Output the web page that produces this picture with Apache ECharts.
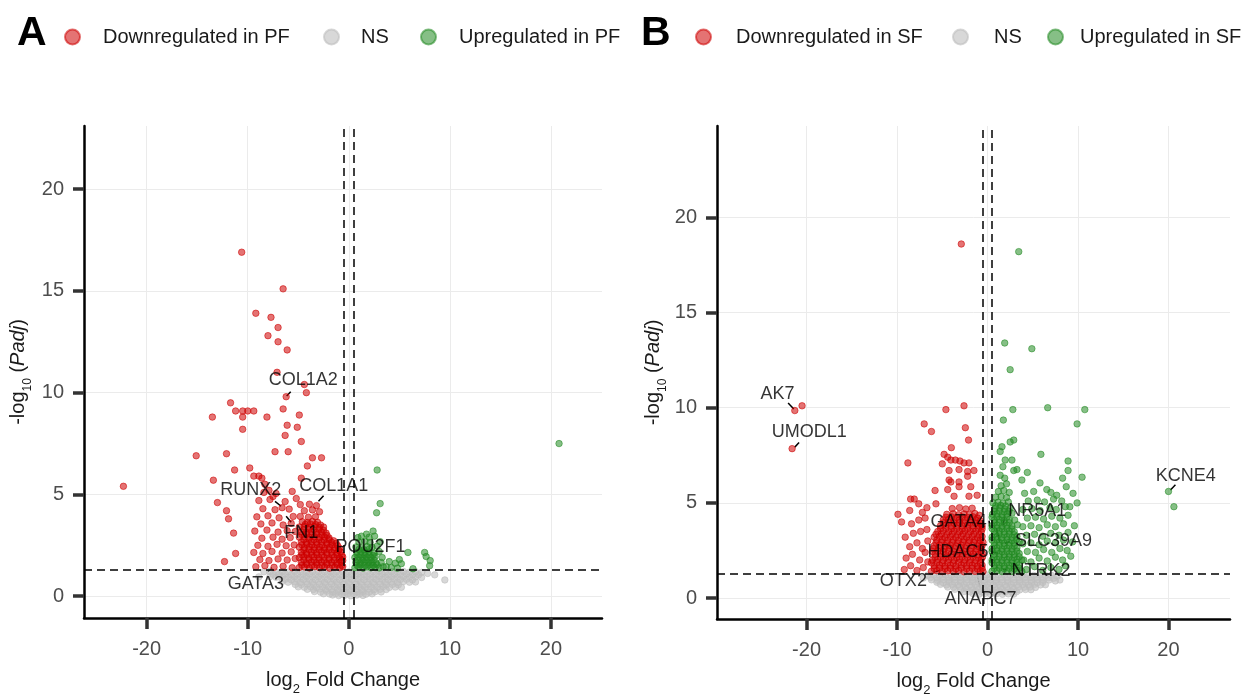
<!DOCTYPE html>
<html>
<head>
<meta charset="utf-8">
<script src="https://cdn.jsdelivr.net/npm/echarts@6/dist/echarts.min.js"></script>
<style>
  html, body { margin: 0; padding: 0; background: #fff; }
  #chart { width: 1255px; height: 695px; }
</style>
</head>
<body>
<div id="chart"></div>
<script>
// ---- data: [log2FC, -log10(padj)] ----
const xTicks = [-20, -10, 0, 10, 20]
const yTicks = [0, 5, 10, 15, 20]

// panel A (PF)
const pfDown = [
  [-10.6,16.9],[-6.5,15.1],[-9.2,13.9],[-7.7,13.7],[-7.0,13.2],[-8.0,12.8],[-7.0,12.5],[-6.1,12.1],
  [-7.1,11.0],[-4.4,10.4],[-4.2,10.0],[-6.2,9.8],[-11.7,9.5],[-11.2,9.1],[-10.5,9.1],[-10.0,9.1],[-9.4,9.1],
  [-6.5,9.2],[-4.9,8.9],[-13.5,8.8],[-10.5,8.8],[-8.1,8.8],[-10.5,8.2],[-6.1,8.4],[-5.1,8.3],[-6.3,7.9],
  [-4.7,7.6],[-7.3,7.1],[-6.0,7.1],[-15.1,6.9],[-12.1,7.0],[-3.6,6.8],[-2.7,6.8],[-4.1,6.4],[-9.8,6.3],
  [-11.3,6.2],[-9.4,5.9],[-8.9,5.9],[-8.6,5.8],[-13.4,5.7],[-22.3,5.4],[-4.7,5.8],[-13.0,4.6],[-12.1,4.2],
  [-11.9,3.8],[-11.4,3.1],[-12.3,1.7],[-11.2,2.1],[-8.3,5.5],[-7.9,5.2],[-7.5,4.9],
  [-9.2,1.45],[-8.3,1.5],[-7.4,1.42],[-6.5,1.47],[-5.6,1.4],
  [-8.8,1.8],[-7.9,1.75],[-7.0,1.83],[-6.1,1.78],[-5.3,1.85],
  [-9.4,2.15],[-8.5,2.1],[-7.6,2.2],[-6.6,2.12],[-5.7,2.18],
  [-9.0,2.5],[-8.0,2.45],[-7.1,2.55],[-6.2,2.48],[-5.4,2.52],
  [-8.6,2.85],[-7.5,2.9],[-6.6,2.8],[-5.8,2.88],
  [-9.3,3.2],[-8.1,3.25],[-7.0,3.15],[-6.1,3.22],[-5.3,3.18],
  [-8.7,3.55],[-7.6,3.6],[-6.5,3.5],[-5.7,3.58],
  [-9.1,3.9],[-8.0,3.95],[-6.9,3.85],[-5.5,3.92],
  [-8.5,4.3],[-7.3,4.25],[-6.6,4.35],[-5.9,4.28],
  [-8.9,4.7],[-7.8,4.75],[-6.3,4.65],[-5.2,4.8],
  [-8.4,5.1],[-7.2,5.05],[-5.6,5.15],
  [-4.9,1.41],[-4.4,1.44],[-3.9,1.39],[-3.4,1.45],[-2.9,1.4],[-2.4,1.43],[-1.9,1.38],[-1.4,1.44],[-0.9,1.4],[-0.6,1.46],
  [-4.7,1.66],[-4.2,1.62],[-3.7,1.68],[-3.2,1.64],[-2.7,1.67],[-2.2,1.63],[-1.7,1.66],[-1.2,1.62],[-0.75,1.68],
  [-4.9,1.9],[-4.45,1.94],[-3.95,1.88],[-3.45,1.93],[-2.95,1.89],[-2.45,1.92],[-1.95,1.87],[-1.45,1.92],[-0.95,1.88],[-0.6,1.93],
  [-4.7,2.16],[-4.2,2.12],[-3.7,2.17],[-3.2,2.13],[-2.7,2.18],[-2.2,2.14],[-1.7,2.16],[-1.2,2.12],[-0.8,2.17],
  [-4.9,2.41],[-4.4,2.38],[-3.9,2.43],[-3.4,2.39],[-2.9,2.42],[-2.4,2.37],[-1.9,2.41],[-1.4,2.38],[-0.9,2.35],
  [-4.7,2.66],[-4.2,2.63],[-3.7,2.68],[-3.2,2.64],[-2.7,2.67],[-2.2,2.62],[-1.7,2.65],[-1.25,2.6],
  [-4.9,2.9],[-4.4,2.93],[-3.9,2.88],[-3.4,2.92],[-2.9,2.89],[-2.4,2.91],[-1.95,2.86],
  [-4.7,3.16],[-4.2,3.13],[-3.7,3.17],[-3.2,3.12],[-2.7,3.15],[-2.25,3.1],
  [-4.9,3.4],[-4.4,3.43],[-3.9,3.38],[-3.4,3.42],[-2.9,3.37],[-2.5,3.4],
  [-4.6,3.66],[-4.1,3.62],[-3.6,3.67],[-3.1,3.63],
  [-4.8,3.92],[-4.0,3.88],[-3.3,3.9],
  [-4.4,4.2],[-3.6,4.24],[-2.9,4.15],
  [-4.8,4.5],[-3.9,4.52],[-3.2,4.45]
]
// the packed core of the down-regulated cloud in A
const pfDownCore = [
  [-4.65,1.53],[-4.15,1.55],[-3.65,1.52],[-3.15,1.54],[-2.65,1.51],[-2.15,1.55],[-1.65,1.52],[-1.15,1.54],[-0.7,1.52],
  [-4.45,1.78],[-3.95,1.8],[-3.45,1.77],[-2.95,1.79],[-2.45,1.76],[-1.95,1.8],[-1.45,1.77],[-0.95,1.79],[-0.6,1.76],
  [-4.65,2.03],[-4.15,2.05],[-3.65,2.02],[-3.15,2.04],[-2.65,2.01],[-2.15,2.05],[-1.65,2.02],[-1.15,2.04],[-0.7,2.02],
  [-4.45,2.28],[-3.95,2.3],[-3.45,2.27],[-2.95,2.29],[-2.45,2.26],[-1.95,2.3],[-1.45,2.27],[-1.0,2.26],
  [-4.65,2.53],[-4.15,2.55],[-3.65,2.52],[-3.15,2.54],[-2.65,2.51],[-2.15,2.55],[-1.65,2.52],[-1.1,2.48],
  [-4.45,2.78],[-3.95,2.8],[-3.45,2.77],[-2.95,2.79],[-2.45,2.76],[-1.95,2.78],[-1.5,2.72],
  [-4.65,3.03],[-4.15,3.05],[-3.65,3.02],[-3.15,3.04],[-2.65,3.01],[-2.15,2.98],
  [-4.45,3.28],[-3.95,3.3],[-3.45,3.27],[-2.95,3.29],[-2.5,3.24],
  [-4.3,3.53],[-3.8,3.55],[-3.3,3.52],[-2.8,3.5]
]
const pfNS = [
  [-8.4,1.2],[-7.8,1.22],[-7.2,1.18],[-6.6,1.21],[-6.0,1.19],[-5.4,1.23],[-4.8,1.2],[-4.2,1.17],[-3.6,1.22],[-3.0,1.19],
  [-2.4,1.21],[-1.8,1.18],[-1.2,1.22],[-0.6,1.2],[0,1.19],[0.6,1.22],[1.2,1.18],[1.8,1.21],[2.4,1.2],[3.0,1.23],
  [3.6,1.18],[4.2,1.21],[4.8,1.19],[5.4,1.22],[6.0,1.18],[6.6,1.2],[7.2,1.17],[7.8,1.12],
  [-7.8,0.96],[-7.2,0.93],[-6.6,0.97],[-6.0,0.94],[-5.4,0.96],[-4.8,0.93],[-4.2,0.97],[-3.6,0.94],[-3.0,0.96],
  [-2.4,0.93],[-1.8,0.97],[-1.2,0.94],[-0.6,0.96],[0,0.93],[0.6,0.97],[1.2,0.94],[1.8,0.96],[2.4,0.93],[3.0,0.97],
  [3.6,0.94],[4.2,0.96],[4.8,0.93],[5.4,0.97],[6.0,0.94],[6.6,0.95],[7.2,0.92],
  [-6.6,0.72],[-6.0,0.69],[-5.4,0.71],[-4.8,0.68],[-4.2,0.72],[-3.6,0.69],[-3.0,0.71],[-2.4,0.68],[-1.8,0.72],
  [-1.2,0.69],[-0.6,0.71],[0,0.68],[0.6,0.72],[1.2,0.69],[1.8,0.71],[2.4,0.68],[3.0,0.72],[3.6,0.69],[4.2,0.71],
  [4.8,0.68],[5.4,0.72],[6.0,0.69],[6.6,0.7],
  [-5.0,0.46],[-4.4,0.44],[-3.8,0.47],[-3.2,0.43],[-2.6,0.46],[-2.0,0.44],[-1.4,0.47],[-0.8,0.43],[-0.2,0.46],
  [0.4,0.44],[1.0,0.47],[1.6,0.43],[2.2,0.46],[2.8,0.44],[3.4,0.47],[4.0,0.43],[4.6,0.45],[5.2,0.44],
  [-3.4,0.23],[-2.8,0.2],[-2.2,0.24],[-1.6,0.21],[-1.0,0.23],[-0.4,0.2],[0.2,0.24],[0.8,0.21],[1.4,0.23],
  [2.0,0.2],[2.6,0.22],[3.2,0.21],
  [-1.6,0.06],[-1.0,0.03],[-0.4,0.05],[0.2,0.02],[0.8,0.06],[1.4,0.04],
  [9.5,0.8],[8.5,1.05],[-8.9,0.95],
  [-7.5,1.08],[-6.9,1.07],[-6.3,1.09],[-5.7,1.06],[-5.1,1.08],[-4.5,1.07],[-3.9,1.09],[-3.3,1.06],[-2.7,1.08],
  [-2.1,1.07],[-1.5,1.09],[-0.9,1.06],[-0.3,1.08],[0.3,1.07],[0.9,1.09],[1.5,1.06],[2.1,1.08],[2.7,1.07],
  [3.3,1.09],[3.9,1.06],[4.5,1.08],[5.1,1.07],[5.7,1.09],[6.3,1.06],[6.9,1.05],
  [-6.3,0.83],[-5.7,0.81],[-5.1,0.84],[-4.5,0.82],[-3.9,0.83],[-3.3,0.81],[-2.7,0.84],[-2.1,0.82],[-1.5,0.83],
  [-0.9,0.81],[-0.3,0.84],[0.3,0.82],[0.9,0.83],[1.5,0.81],[2.1,0.84],[2.7,0.82],[3.3,0.83],[3.9,0.81],
  [4.5,0.84],[5.1,0.82],[5.7,0.83],[6.3,0.8],
  [-5.3,0.58],[-4.7,0.57],[-4.1,0.59],[-3.5,0.56],[-2.9,0.58],[-2.3,0.57],[-1.7,0.59],[-1.1,0.56],[-0.5,0.58],
  [0.1,0.57],[0.7,0.59],[1.3,0.56],[1.9,0.58],[2.5,0.57],[3.1,0.59],[3.7,0.56],[4.3,0.58],[4.9,0.56],
  [-4.1,0.34],[-3.5,0.33],[-2.9,0.35],[-2.3,0.32],[-1.7,0.34],[-1.1,0.33],[-0.5,0.35],[0.1,0.32],[0.7,0.34],
  [1.3,0.33],[1.9,0.35],[2.5,0.32],[3.1,0.34],[3.7,0.33],
  [-2.5,0.12],[-1.9,0.11],[-1.3,0.13],[-0.7,0.1],[-0.1,0.12],[0.5,0.11],[1.1,0.13],[1.7,0.1],[2.3,0.12]
]
const pfUp = [
  [20.8,7.5],[2.8,6.2],[3.1,4.55],[2.75,4.1],[1.25,2.95],[1.75,3.05],[2.4,3.2],[2.55,2.95],[5.85,2.15],
  [7.5,2.15],[7.65,1.95],[8.05,1.75],[5.0,1.8],[5.2,1.6],[6.35,1.35],[3.7,1.45],[8.0,1.5],
  [0.6,1.4],[1.0,1.43],[1.4,1.38],[1.8,1.44],[2.2,1.4],[2.6,1.42],[3.0,1.39],[3.4,1.45],[4.2,1.41],[4.8,1.38],
  [0.7,1.66],[1.1,1.63],[1.5,1.68],[1.9,1.64],[2.3,1.67],[2.7,1.62],[3.2,1.66],[4.0,1.7],[4.6,1.62],
  [0.6,1.9],[1.0,1.93],[1.4,1.88],[1.8,1.92],[2.2,1.89],[2.6,1.94],[3.3,1.9],
  [0.8,2.15],[1.2,2.18],[1.6,2.13],[2.0,2.17],[2.5,2.12],[3.0,2.2],
  [0.7,2.42],[1.3,2.38],[1.8,2.44],[2.3,2.4],[2.8,2.46],
  [1.0,2.66],[1.6,2.7],[2.1,2.64],[3.1,2.68],
  [0.9,2.88],[2.0,2.9],
  [0.8,1.52],[1.2,1.54],[1.6,1.51],[2.0,1.53],[2.4,1.52],[2.8,1.55],
  [0.9,1.78],[1.3,1.77],[1.7,1.79],[2.1,1.76],[2.5,1.78],
  [0.8,2.03],[1.2,2.04],[1.6,2.02],[2.0,2.05],[2.4,2.01],
  [1.0,2.3],[1.5,2.28],[2.0,2.31]
]
const pfGenes = [
  ['COL1A2', -4.5, 10.6], ['RUNX2', -9.7, 5.2], ['COL1A1', -1.5, 5.4],
  ['FN1', -4.7, 3.1], ['POU2F1', 2.15, 2.4], ['GATA3', -9.2, 0.58]
]
const pfLinks = [
  [-6.15,9.83,-5.75,10.05], [-7.3,4.66,-6.7,4.42], [-2.5,4.94,-3.0,4.66],
  [-6.2,3.93,-5.7,3.63], [-0.62,1.97,-1.15,1.73], [-7.6,1.4,-8.0,1.2]
]

// panel B (SF)
const sfDown = [
  [-2.9,18.6],[-2.6,10.1],[-4.6,9.9],[-7.0,9.15],[-6.2,8.75],[-2.45,8.95],[-2.1,8.3],[-8.8,7.1],[-4.0,7.9],
  [-4.8,7.55],[-4.4,7.4],[-4.05,7.25],[-3.55,7.25],[-3.05,7.2],[-2.6,7.1],[-2.05,7.1],[-5.0,7.05],[-4.25,6.7],
  [-3.15,6.75],[-2.2,6.65],[-1.5,6.7],[-5.8,5.65],[-8.5,5.2],[-8.1,5.2],[-7.6,4.95],[-8.6,4.6],[-9.9,4.4],
  [-6.7,4.75],[-5.7,4.95],[-21.3,9.85],[-20.5,10.1],[-21.6,7.85],
  [-2.2,6.4],[-3.15,6.1],[-4.05,6.1],[-1.85,5.85],[-3.15,5.85],[-4.4,5.7],[-2.05,5.35],[-1.15,5.4],[-3.7,5.35],[-4.25,6.2],
  [-9.2,1.5],[-8.5,1.7],[-7.8,1.45],[-7.1,1.6],[-6.6,1.9],
  [-9.0,2.1],[-8.3,2.3],[-7.5,2.0],[-6.9,2.4],
  [-8.6,2.7],[-7.8,2.9],[-7.2,2.6],[-6.6,3.0],
  [-9.1,3.2],[-8.2,3.4],[-7.4,3.5],[-6.7,3.6],
  [-8.4,3.9],[-7.6,4.1],[-6.9,4.2],[-9.5,4.0],[-7.2,4.5],
  [-6.2,1.41],[-5.6,1.44],[-5.0,1.39],[-4.4,1.43],[-3.8,1.4],[-3.2,1.45],[-2.6,1.38],[-2.0,1.42],[-1.4,1.4],[-0.8,1.44],[-0.5,1.39],
  [-5.9,1.7],[-5.3,1.73],[-4.7,1.68],[-4.1,1.72],[-3.5,1.69],[-2.9,1.74],[-2.3,1.7],[-1.7,1.72],[-1.1,1.68],[-0.6,1.73],
  [-6.1,2.0],[-5.5,2.03],[-4.9,1.98],[-4.3,2.02],[-3.7,1.99],[-3.1,2.04],[-2.5,2.0],[-1.9,2.02],[-1.3,1.98],[-0.7,2.03],
  [-5.8,2.3],[-5.2,2.33],[-4.6,2.28],[-4.0,2.32],[-3.4,2.29],[-2.8,2.34],[-2.2,2.3],[-1.6,2.32],[-1.0,2.28],[-0.55,2.33],
  [-6.0,2.6],[-5.4,2.63],[-4.8,2.58],[-4.2,2.62],[-3.6,2.59],[-3.0,2.64],[-2.4,2.6],[-1.8,2.62],[-1.2,2.58],[-0.7,2.63],
  [-5.7,2.9],[-5.1,2.93],[-4.5,2.88],[-3.9,2.92],[-3.3,2.89],[-2.7,2.94],[-2.1,2.9],[-1.5,2.92],[-0.9,2.88],[-0.5,2.93],
  [-5.9,3.2],[-5.3,3.23],[-4.7,3.18],[-4.1,3.22],[-3.5,3.19],[-2.9,3.24],[-2.3,3.2],[-1.7,3.22],[-1.1,3.18],[-0.6,3.23],
  [-5.5,3.5],[-4.9,3.53],[-4.3,3.48],[-3.7,3.52],[-3.1,3.49],[-2.5,3.54],[-1.9,3.5],[-1.3,3.52],[-0.7,3.48],
  [-5.2,3.8],[-4.6,3.83],[-4.0,3.78],[-3.4,3.82],[-2.8,3.79],[-2.2,3.84],[-1.6,3.8],[-1.0,3.82],[-0.6,3.78],
  [-4.9,4.1],[-4.3,4.13],[-3.7,4.08],[-3.1,4.12],[-2.5,4.09],[-1.9,4.14],[-1.3,4.1],[-0.8,4.05],
  [-4.5,4.4],[-3.8,4.43],[-3.2,4.38],[-2.6,4.42],[-2.0,4.39],[-1.4,4.44],[-0.9,4.35],
  [-3.9,4.7],[-3.1,4.75],[-2.4,4.68],[-1.7,4.72]
]
// the packed core of the down-regulated cloud in B
const sfDownCore = [
  [-5.9,1.55],[-5.3,1.57],[-4.7,1.54],[-4.1,1.56],[-3.5,1.53],[-2.9,1.57],[-2.3,1.54],[-1.7,1.56],[-1.1,1.53],[-0.6,1.56],
  [-6.2,1.85],[-5.6,1.87],[-5.0,1.84],[-4.4,1.86],[-3.8,1.83],[-3.2,1.87],[-2.6,1.84],[-2.0,1.86],[-1.4,1.83],[-0.8,1.86],
  [-5.8,2.15],[-5.2,2.17],[-4.6,2.14],[-4.0,2.16],[-3.4,2.13],[-2.8,2.17],[-2.2,2.14],[-1.6,2.16],[-1.0,2.13],[-0.55,2.16],
  [-6.1,2.45],[-5.5,2.47],[-4.9,2.44],[-4.3,2.46],[-3.7,2.43],[-3.1,2.47],[-2.5,2.44],[-1.9,2.46],[-1.3,2.43],[-0.7,2.46],
  [-5.9,2.75],[-5.3,2.77],[-4.7,2.74],[-4.1,2.76],[-3.5,2.73],[-2.9,2.77],[-2.3,2.74],[-1.7,2.76],[-1.1,2.73],[-0.6,2.76],
  [-5.6,3.05],[-5.0,3.07],[-4.4,3.04],[-3.8,3.06],[-3.2,3.03],[-2.6,3.07],[-2.0,3.04],[-1.4,3.06],[-0.8,3.03],
  [-5.7,3.35],[-5.1,3.37],[-4.5,3.34],[-3.9,3.36],[-3.3,3.33],[-2.7,3.37],[-2.1,3.34],[-1.5,3.36],[-0.9,3.33],
  [-5.2,3.65],[-4.6,3.67],[-4.0,3.64],[-3.4,3.66],[-2.8,3.63],[-2.2,3.67],[-1.6,3.64],[-1.0,3.66],[-0.6,3.63],
  [-4.9,3.95],[-4.3,3.97],[-3.7,3.94],[-3.1,3.96],[-2.5,3.93],[-1.9,3.97],[-1.3,3.94],[-0.8,3.92],
  [-4.6,4.25],[-4.0,4.27],[-3.4,4.24],[-2.8,4.26],[-2.2,4.23],[-1.6,4.27],[-1.1,4.2]
]
const sfNS = [
  [-6.6,1.2],[-5.95,1.22],[-5.3,1.18],[-4.65,1.21],[-4.0,1.19],[-3.35,1.23],[-2.7,1.2],[-2.05,1.17],[-1.4,1.22],
  [-0.75,1.19],[-0.1,1.21],[0.55,1.18],[1.2,1.22],[1.85,1.2],[2.5,1.19],[3.15,1.23],[3.8,1.18],[4.45,1.21],
  [5.1,1.19],[5.75,1.22],[6.4,1.18],[7.05,1.2],[7.7,1.15],
  [-6.2,0.96],[-5.55,0.93],[-4.9,0.97],[-4.25,0.94],[-3.6,0.96],[-2.95,0.93],[-2.3,0.97],[-1.65,0.94],[-1.0,0.96],
  [-0.35,0.93],[0.3,0.97],[0.95,0.94],[1.6,0.96],[2.25,0.93],[2.9,0.97],[3.55,0.94],[4.2,0.96],[4.85,0.93],
  [5.5,0.97],[6.15,0.94],[6.8,0.95],[7.5,0.9],
  [-5.2,0.72],[-4.55,0.69],[-3.9,0.71],[-3.25,0.68],[-2.6,0.72],[-1.95,0.69],[-1.3,0.71],[-0.65,0.68],[0,0.72],
  [0.65,0.69],[1.3,0.71],[1.95,0.68],[2.6,0.72],[3.25,0.69],[3.9,0.71],[4.55,0.68],[5.2,0.72],[5.85,0.69],[6.4,0.7],
  [-3.6,0.46],[-2.95,0.44],[-2.3,0.47],[-1.65,0.43],[-1.0,0.46],[-0.35,0.44],[0.3,0.47],[0.95,0.43],[1.6,0.46],
  [2.25,0.44],[2.9,0.47],[3.55,0.43],[4.2,0.45],[4.8,0.44],
  [-1.6,0.23],[-0.95,0.2],[-0.3,0.24],[0.35,0.21],[1.0,0.23],[1.65,0.2],[2.3,0.22],[2.9,0.21],
  [8.0,0.95],[-7.1,1.05],
  [-6.3,1.08],[-5.6,1.07],[-4.95,1.09],[-4.3,1.06],[-3.65,1.08],[-3.0,1.07],[-2.35,1.09],[-1.7,1.06],[-1.05,1.08],
  [-0.4,1.07],[0.25,1.09],[0.9,1.06],[1.55,1.08],[2.2,1.07],[2.85,1.09],[3.5,1.06],[4.15,1.08],[4.8,1.07],
  [5.45,1.09],[6.1,1.06],[6.75,1.07],[7.3,1.04],
  [-5.6,0.83],[-4.9,0.81],[-4.25,0.84],[-3.6,0.82],[-2.95,0.83],[-2.3,0.81],[-1.65,0.84],[-1.0,0.82],[-0.35,0.83],
  [0.3,0.81],[0.95,0.84],[1.6,0.82],[2.25,0.83],[2.9,0.81],[3.55,0.84],[4.2,0.82],[4.85,0.83],[5.5,0.81],[6.1,0.82],
  [-4.4,0.58],[-3.75,0.57],[-3.1,0.59],[-2.45,0.56],[-1.8,0.58],[-1.15,0.57],[-0.5,0.59],[0.15,0.56],[0.8,0.58],
  [1.45,0.57],[2.1,0.59],[2.75,0.56],[3.4,0.58],[4.05,0.57],[4.7,0.58],[5.3,0.56],
  [-2.6,0.34],[-1.95,0.33],[-1.3,0.35],[-0.65,0.32],[0,0.34],[0.65,0.33],[1.3,0.35],[1.95,0.32],[2.6,0.34],[3.2,0.33]
]
const sfUp = [
  [3.45,18.2],[1.9,13.4],[4.9,13.1],[2.5,12.0],[6.65,10.0],[2.8,9.9],[10.75,9.9],[1.75,9.35],[9.9,9.15],
  [5.9,7.55],[8.9,7.2],[8.9,6.7],[10.45,6.35],[2.9,8.3],[2.5,8.2],[20.0,5.6],[20.6,4.8],
  [1.6,7.95],[1.4,7.7],[1.95,7.25],[2.7,7.25],[3.25,6.75],[2.9,6.7],[1.7,6.9],[3.8,6.2],[5.8,6.05],
  [6.55,5.7],[7.65,5.4],[8.7,5.85],[9.45,5.5],[9.9,5.0],[9.1,4.8],[8.3,6.3],[4.4,6.6],
  [0.5,1.41],[1.05,1.44],[1.6,1.39],[2.15,1.43],[2.7,1.4],[3.25,1.45],[3.8,1.4],
  [0.75,1.7],[1.3,1.73],[1.85,1.68],[2.4,1.72],[2.95,1.69],[3.5,1.74],
  [0.5,2.0],[1.05,2.03],[1.6,1.98],[2.15,2.02],[2.7,1.99],[3.25,2.04],[3.8,2.0],
  [0.75,2.3],[1.3,2.33],[1.85,2.28],[2.4,2.32],[2.95,2.29],[3.5,2.34],
  [0.5,2.6],[1.05,2.63],[1.6,2.58],[2.15,2.62],[2.7,2.59],[3.25,2.64],
  [0.75,2.9],[1.3,2.93],[1.85,2.88],[2.4,2.92],[2.95,2.89],[3.5,2.94],
  [0.5,3.2],[1.05,3.23],[1.6,3.18],[2.15,3.22],[2.7,3.19],[3.25,3.24],
  [0.75,3.5],[1.3,3.53],[1.85,3.48],[2.4,3.52],[2.95,3.49],
  [0.5,3.8],[1.05,3.83],[1.6,3.78],[2.15,3.82],[2.7,3.79],[3.3,3.85],
  [0.75,4.1],[1.3,4.13],[1.85,4.08],[2.4,4.12],[3.0,4.1],
  [0.55,4.4],[1.05,4.43],[1.6,4.38],[2.15,4.42],[2.7,4.45],
  [0.8,4.7],[1.35,4.73],[1.9,4.68],[2.5,4.72],
  [0.6,5.0],[1.15,5.03],[1.7,4.98],[2.3,5.05],
  [0.9,5.3],[1.5,5.33],[2.1,5.28],
  [1.2,5.6],[1.8,5.65],[2.4,5.55],
  [1.5,5.9],[2.1,6.0],[1.9,6.3],[1.4,6.45],
  [4.3,1.5],[5.2,1.65],[6.1,1.45],[7.0,1.6],[7.9,1.5],[8.6,1.7],
  [4.0,2.0],[4.8,1.9],[5.7,2.1],[6.6,1.95],[7.5,2.15],[8.3,2.0],[9.2,2.2],
  [4.4,2.45],[5.3,2.4],[6.2,2.55],[7.1,2.4],[8.0,2.6],[8.8,2.5],
  [3.9,2.85],[4.8,2.9],[5.7,2.8],[6.6,3.0],[7.5,2.9],[8.4,3.05],[9.4,2.95],
  [4.3,3.3],[5.2,3.35],[6.1,3.25],[7.0,3.4],[7.9,3.3],[8.9,3.45],
  [3.9,3.75],[4.8,3.8],[5.7,3.7],[6.6,3.85],[7.5,3.75],[8.4,3.9],[9.6,3.8],
  [4.4,4.2],[5.3,4.25],[6.2,4.15],[7.1,4.3],[8.0,4.2],[8.9,4.35],
  [3.9,4.65],[4.9,4.7],[5.8,4.6],[6.9,4.75],[7.6,4.65],[8.6,4.8],
  [4.5,5.1],[5.5,5.15],[6.3,5.05],[7.3,5.2],[8.2,5.1],
  [4.1,5.5],[5.1,5.6],[7.0,5.55]
]
// the packed core of the up-regulated cloud in B
const sfUpCore = [
  [0.75,1.55],[1.3,1.57],[1.85,1.54],[2.4,1.56],[2.95,1.53],[3.5,1.57],
  [0.5,1.85],[1.05,1.87],[1.6,1.84],[2.15,1.86],[2.7,1.83],[3.25,1.87],
  [0.75,2.15],[1.3,2.17],[1.85,2.14],[2.4,2.16],[2.95,2.13],[3.5,2.17],
  [0.5,2.45],[1.05,2.47],[1.6,2.44],[2.15,2.46],[2.7,2.43],[3.25,2.47],
  [0.75,2.75],[1.3,2.77],[1.85,2.74],[2.4,2.76],[2.95,2.73],
  [0.5,3.05],[1.05,3.07],[1.6,3.04],[2.15,3.06],[2.7,3.03],[3.2,3.07],
  [0.75,3.35],[1.3,3.37],[1.85,3.34],[2.4,3.36],[2.95,3.33],
  [0.5,3.65],[1.05,3.67],[1.6,3.64],[2.15,3.66],[2.7,3.63],
  [0.75,3.95],[1.3,3.97],[1.85,3.94],[2.4,3.96],
  [0.5,4.25],[1.05,4.27],[1.6,4.24],[2.15,4.26],
  [0.75,4.55],[1.3,4.57],[1.85,4.54],[2.35,4.56],
  [0.9,4.85],[1.45,4.87],[2.0,4.84]
]
const sfGenes = [
  ['AK7', -23.2, 10.7], ['UMODL1', -19.7, 8.7], ['KCNE4', 21.9, 6.43],
  ['NR5A1', 5.5, 4.57], ['GATA4', -3.2, 3.97], ['SLC39A9', 7.3, 2.99],
  ['HDAC5', -3.25, 2.4], ['NTRK2', 5.9, 1.43], ['OTX2', -9.3, 0.9], ['ANAPC7', -0.77, -0.06]
]
const sfLinks = [
  [-22.04,10.25,-21.41,9.93], [-20.83,8.17,-21.3,7.93], [20.77,5.95,20.22,5.68],
  [1.9,4.25,1.71,3.84], [0.98,3.67,1.35,2.96], [0.17,4.07,0.24,3.72],
  [2.45,2.96,1.9,2.88], [0.43,2.44,1.16,2.35], [0.32,2.35,0.43,1.91],
  [1.71,1.51,2.09,1.47], [-6.09,1.3,-5.28,1.47], [-1.16,1.3,-0.86,0.59]
]

const fcCut = 0.5
const padjCut = 1.3

// ---- styling ----
const FONT = "'Liberation Sans', Arial, Helvetica, sans-serif"
const RED = 'rgba(205,0,0,0.55)'
const GREEN = 'rgba(34,139,34,0.55)'
const GREY = 'rgba(190,190,190,0.6)'

function xAxisFor(gi, min, max) {
  return {
    type: 'value', gridIndex: gi, min: min, max: max,
    name: '{a|log}{s|2}{a| Fold Change}', nameLocation: 'middle', nameGap: 52,
    nameTextStyle: {
      rich: {
        a: { fontSize: 20, color: '#1a1a1a', fontFamily: FONT, lineHeight: 26, verticalAlign: 'top' },
        s: { fontSize: 13, color: '#1a1a1a', fontFamily: FONT, lineHeight: 13, verticalAlign: 'bottom' }
      }
    },
    axisLine: { show: true, onZero: false, lineStyle: { color: '#000', width: 2.5 } },
    axisTick: { show: true, length: 11, customValues: xTicks, lineStyle: { color: '#333', width: 3.5 } },
    axisLabel: { customValues: xTicks, color: '#4d4d4d', fontSize: 20, fontFamily: FONT, margin: 21 },
    splitLine: { show: true, lineStyle: { color: '#ebebeb', width: 1 } }
  }
}

function yAxisFor(gi, min, max, gap) {
  return {
    type: 'value', gridIndex: gi, min: min, max: max,
    name: '{a|-log}{s|10}{a| (}{i|Padj}{a|)}', nameLocation: 'middle', nameGap: gap,
    nameTextStyle: {
      rich: {
        a: { fontSize: 20, color: '#1a1a1a', fontFamily: FONT, lineHeight: 26, verticalAlign: 'top' },
        i: { fontSize: 20, color: '#1a1a1a', fontFamily: FONT, fontStyle: 'italic', lineHeight: 26, verticalAlign: 'top' },
        s: { fontSize: 12, color: '#1a1a1a', fontFamily: FONT, lineHeight: 12, verticalAlign: 'bottom' }
      }
    },
    axisLine: { show: true, onZero: false, lineStyle: { color: '#000', width: 2.5 } },
    axisTick: { show: true, length: 11, customValues: yTicks, lineStyle: { color: '#333', width: 3.5 } },
    axisLabel: { customValues: yTicks, color: '#4d4d4d', fontSize: 20, fontFamily: FONT, margin: 20 },
    splitLine: { show: true, lineStyle: { color: '#ebebeb', width: 1 } }
  }
}

function dots(name, data, color, gi) {
  return {
    name: name, type: 'scatter', xAxisIndex: gi, yAxisIndex: gi, data: data,
    symbolSize: 6.5, itemStyle: { color: color, borderColor: color, borderWidth: 1, opacity: 1 },
    emphasis: { disabled: true }
  }
}

function panelSeries(gi, tag, ns, down, up, genes, links) {
  let nsSeries = dots('NS', ns, GREY, gi)
  nsSeries.markLine = {
    silent: true, symbol: 'none', label: { show: false }, animation: false,
    lineStyle: { color: '#000', width: 1.5, type: [8, 5] },
    data: [{ xAxis: -fcCut }, { xAxis: fcCut }, { yAxis: padjCut }]
  }
  return [
    nsSeries,
    dots('Downregulated in ' + tag, down, RED, gi),
    dots('Upregulated in ' + tag, up, GREEN, gi),
    {
      type: 'lines', coordinateSystem: 'cartesian2d', xAxisIndex: gi, yAxisIndex: gi, silent: true,
      lineStyle: { color: '#000', width: 1.5, opacity: 1, curveness: 0 },
      data: links.map(l => ({ coords: [[l[0], l[1]], [l[2], l[3]]] }))
    },
    {
      type: 'scatter', xAxisIndex: gi, yAxisIndex: gi, silent: true, symbolSize: 1,
      itemStyle: { color: 'rgba(0,0,0,0)' },
      data: genes.map(g => [g[1], g[2], g[0]]),
      label: {
        show: true, position: 'inside', formatter: p => p.data[2],
        color: '#000', fontSize: 18, fontFamily: FONT
      }
    }
  ]
}

function legendItem(name, left, pad) {
  return {
    data: [name], left: left, top: 22, icon: 'circle', itemWidth: 15, itemHeight: 15,
    selectedMode: false,
    textStyle: { fontSize: 20, color: '#1a1a1a', fontFamily: FONT, padding: [0, 0, 0, pad] }
  }
}

const chart = echarts.init(document.getElementById('chart'))
chart.setOption({
  animation: false,
  backgroundColor: '#fff',
  textStyle: { fontFamily: FONT },
  title: [
    { text: 'A', left: 12, top: 8, textStyle: { fontSize: 41, fontWeight: 'bold', color: '#000', fontFamily: FONT } },
    { text: 'B', left: 636, top: 8, textStyle: { fontSize: 41, fontWeight: 'bold', color: '#000', fontFamily: FONT } }
  ],
  legend: [
    legendItem('Downregulated in PF', 59, 18),
    legendItem('NS', 318, 17),
    legendItem('Upregulated in PF', 415, 18),
    legendItem('Downregulated in SF', 690, 20),
    legendItem('NS', 947, 21),
    legendItem('Upregulated in SF', 1042, 12)
  ],
  grid: [
    { left: 84, top: 126, width: 518, height: 492, outerBoundsMode: 'none', containLabel: false },
    { left: 717, top: 126, width: 513, height: 493, outerBoundsMode: 'none', containLabel: false }
  ],
  xAxis: [xAxisFor(0, -26.2, 25.05), xAxisFor(1, -29.9, 26.8)],
  yAxis: [yAxisFor(0, -1.07, 23.1, 50), yAxisFor(1, -1.1, 24.8, 48)],
  series: [].concat(
    panelSeries(0, 'PF', pfNS, pfDown.concat(pfDownCore), pfUp, pfGenes, pfLinks),
    panelSeries(1, 'SF', sfNS, sfDown.concat(sfDownCore), sfUp.concat(sfUpCore), sfGenes, sfLinks)
  )
})
window.addEventListener('resize', () => chart.resize())
</script>
</body>
</html>
